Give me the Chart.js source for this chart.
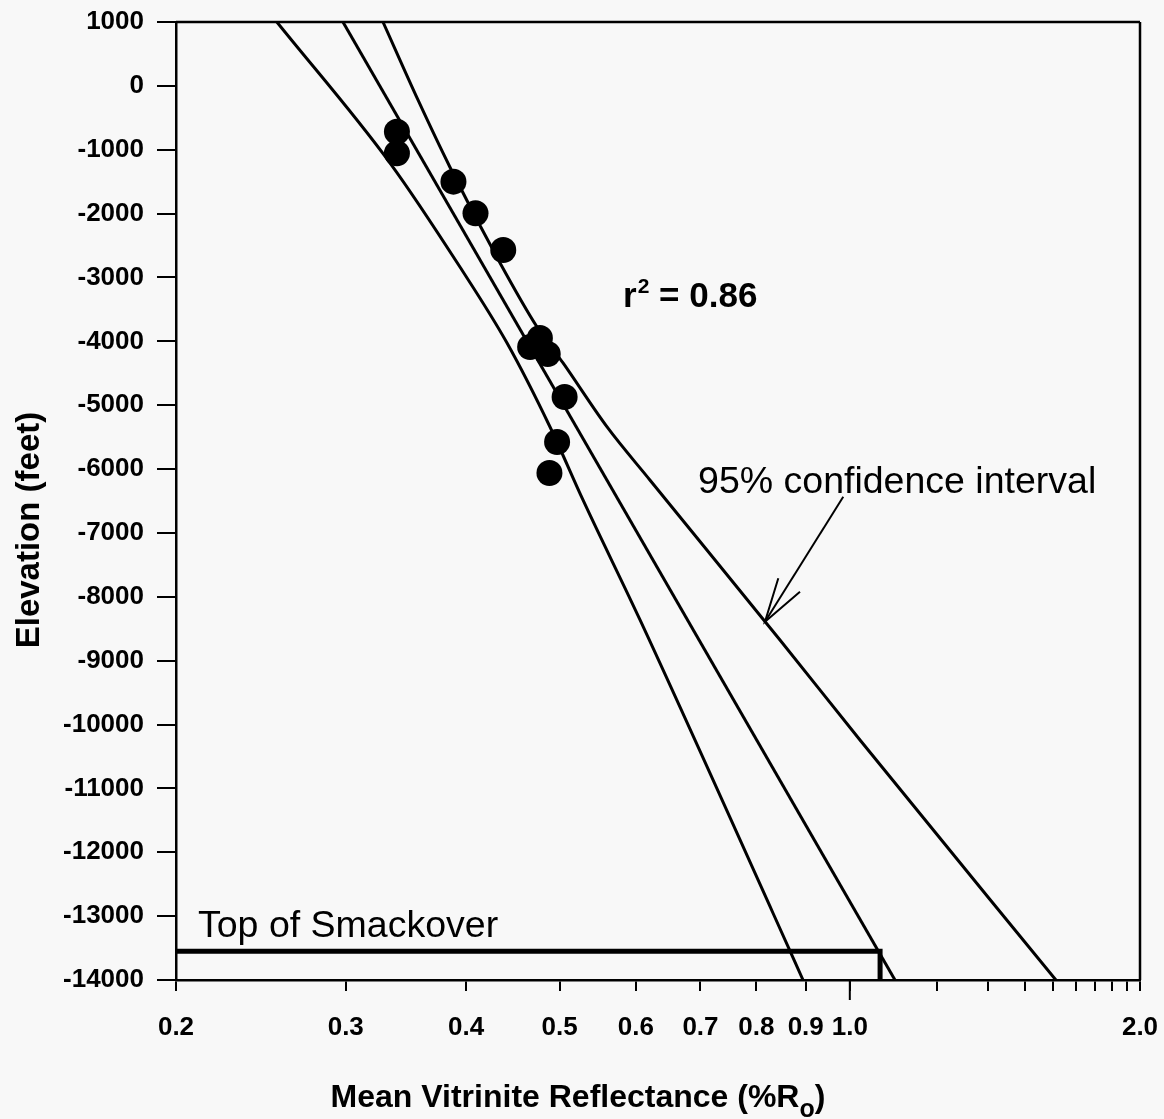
<!DOCTYPE html>
<html><head><meta charset="utf-8">
<script src="https://cdn.jsdelivr.net/npm/chart.js@4.4.1/dist/chart.umd.min.js"></script>
<style>html,body{margin:0;padding:0;background:#f8f8f8;} #wrap{width:1164px;height:1119px;}</style>
</head><body><div id="wrap"><canvas id="c" width="1164" height="1119"></canvas></div>
<script>
// ---- data ----
const sampleRo   = [0.339, 0.339, 0.388, 0.409, 0.437, 0.466, 0.477, 0.486, 0.506, 0.497, 0.488];
const sampleElev = [-718, -1056, -1500, -1995, -2570, -4089, -3948, -4198, -4872, -5576, -6062];

const fitRo   = [0.298, 1.114];
const fitElev = [1000, -14000];

const ciLeftRo   = [0.2545, 0.3335, 0.3941, 0.4410, 0.4887, 0.5287, 0.6059, 0.8323, 0.8943];
const ciLeftElev = [1000, -1208, -2836, -4026, -5341, -6484, -8363, -12951, -14000];

const ciRightRo   = [0.3279, 0.3565, 0.3847, 0.4337, 0.4738, 0.5041, 0.5600, 0.6203, 0.8464, 1.0246, 1.636];
const ciRightElev = [1000, -221, -1270, -2773, -3776, -4339, -5341, -6171, -8676, -10242, -14000];

const smackRo   = [0.2, 1.075, 1.075];
const smackElev = [-13550, -13550, -14000];

const arrowShaftRo   = [0.9845, 0.8166];
const arrowShaftElev = [-6433, -8390];
const arrowHeadRo    = [0.8430, 0.8166, 0.8878];
const arrowHeadElev  = [-7710, -8390, -7920];

const xTickValues = [0.2, 0.3, 0.4, 0.5, 0.6, 0.7, 0.8, 0.9, 1.0, 1.232, 1.392, 1.518, 1.623, 1.715, 1.796, 1.870, 1.938, 2.0];
const xTickLabels = ['0.2','0.3','0.4','0.5','0.6','0.7','0.8','0.9','1.0','','','','','','','','','2.0'];
const yTickValues = [1000, 0, -1000, -2000, -3000, -4000, -5000, -6000, -7000, -8000, -9000, -10000, -11000, -12000, -13000, -14000];
const yTickLabels = ['1000','0','-1000','-2000','-3000','-4000','-5000','-6000','-7000','-8000','-9000','-10000','-11000','-12000','-13000','-14000'];

const xTitle = 'Mean Vitrinite Reflectance (%R';
const xTitleSub = 'o';
const yTitle = 'Elevation (feet)';
const ciLabel = '95% confidence interval';
const smackLabel = 'Top of Smackover';
const r2Value = '0.86';

// anchors for text notes (data coordinates)
const notes = {
  ci:    {x: 0.696, y: -6375},
  smack: {x: 0.2108, y: -13327},
  r2:    {x: 0.5818, y: -3462}
};

const FF = '"Liberation Sans", Arial, Helvetica, sans-serif';
const pts = (xs, ys) => xs.map((x, i) => ({x: x, y: ys[i]}));
const lineDs = (data, w, smooth) => ({type: 'line', data: data, borderColor: '#000', borderWidth: w, pointRadius: 0,
  showLine: true, fill: false, tension: smooth ? 0.4 : 0, cubicInterpolationMode: smooth ? 'monotone' : 'default',
  borderCapStyle: 'butt'});

const bgPlugin = {
  id: 'bg',
  beforeDraw(chart) {
    const c = chart.ctx; c.save(); c.fillStyle = '#f8f8f8';
    c.fillRect(0, 0, chart.width, chart.height); c.restore();
  }
};

const decoPlugin = {
  id: 'deco',
  afterDraw(chart) {
    const c = chart.ctx, a = chart.chartArea, xs = chart.scales.x, ys = chart.scales.y;
    c.save();
    c.strokeStyle = '#000'; c.lineWidth = 2.5;
    c.beginPath();
    c.moveTo(a.left, a.top); c.lineTo(a.right, a.top);
    c.moveTo(a.right, a.top); c.lineTo(a.right, a.bottom);
    c.stroke();
    // longer tick at 1.0
    c.lineWidth = 2;
    const x1 = xs.getPixelForValue(1.0);
    c.beginPath(); c.moveTo(x1, a.bottom); c.lineTo(x1, a.bottom + 20); c.stroke();

    c.fillStyle = '#000';
    c.font = '37.5px ' + FF; c.textAlign = 'left'; c.textBaseline = 'alphabetic';
    c.fillText(ciLabel, xs.getPixelForValue(notes.ci.x), ys.getPixelForValue(notes.ci.y));
    c.fillText(smackLabel, xs.getPixelForValue(notes.smack.x), ys.getPixelForValue(notes.smack.y));

    // r^2
    let rx = xs.getPixelForValue(notes.r2.x), ry = ys.getPixelForValue(notes.r2.y);
    c.font = 'bold 35px ' + FF; c.fillText('r', rx, ry); rx += c.measureText('r').width + 1;
    c.font = 'bold 21px ' + FF; c.fillText('2', rx, ry - 14); rx += c.measureText('2').width;
    c.font = 'bold 35px ' + FF; c.fillText(' = ' + r2Value, rx, ry);

    // x title with subscript
    c.font = 'bold 32px ' + FF;
    const w1 = c.measureText(xTitle).width;
    c.font = 'bold 25px ' + FF;
    const w2 = c.measureText(xTitleSub).width;
    c.font = 'bold 32px ' + FF;
    const w3 = c.measureText(')').width;
    let tx = 578 - (w1 + w2 + w3) / 2; const ty = 1107;
    c.fillText(xTitle, tx, ty); tx += w1;
    c.font = 'bold 25px ' + FF; c.fillText(xTitleSub, tx, ty + 10); tx += w2;
    c.font = 'bold 32px ' + FF; c.fillText(')', tx, ty);

    // y title
    c.save();
    c.translate(39, 530); c.rotate(-Math.PI / 2);
    c.textAlign = 'center'; c.font = 'bold 33px ' + FF;
    c.fillText(yTitle, 0, 0);
    c.restore();
    c.restore();
  }
};

new Chart(document.getElementById('c'), {
  type: 'scatter',
  data: {
    datasets: [
      lineDs(pts(ciLeftRo, ciLeftElev), 3, true),
      lineDs(pts(ciRightRo, ciRightElev), 3, true),
      lineDs(pts(fitRo, fitElev), 3, false),
      lineDs(pts(smackRo, smackElev), 5, false),
      lineDs(pts(arrowShaftRo, arrowShaftElev), 2, false),
      lineDs(pts(arrowHeadRo, arrowHeadElev), 2, false),
      {type: 'scatter', data: pts(sampleRo, sampleElev), pointRadius: 13, pointBackgroundColor: '#000',
       pointBorderWidth: 0, backgroundColor: '#000', borderColor: '#000'}
    ]
  },
  options: {
    responsive: false, animation: false, devicePixelRatio: 1,
    layout: {padding: {left: 0, top: 22, right: 24, bottom: 0}},
    plugins: {legend: {display: false}, tooltip: {enabled: false}},
    scales: {
      x: {
        type: 'logarithmic', position: 'bottom', min: 0.2, max: 2.0,
        afterBuildTicks: s => { s.ticks = xTickValues.map(v => ({value: v})); },
        afterFit: s => { s.height = 139; s.paddingLeft = 0; s.paddingRight = 0; },
        ticks: {autoSkip: false, maxRotation: 0, minRotation: 0, padding: 21, color: '#000',
          font: {family: FF, size: 26, weight: 'bold'},
          callback: (v, i) => xTickLabels[i]},
        grid: {drawOnChartArea: false, drawTicks: true, tickLength: 11, color: '#000', lineWidth: 2},
        border: {display: true, color: '#000', width: 2.5},
        title: {display: false}
      },
      y: {
        type: 'linear', min: -14000, max: 1000,
        afterBuildTicks: s => { s.ticks = yTickValues.map(v => ({value: v})); },
        afterFit: s => { s.width = 176; s.paddingTop = 0; s.paddingBottom = 0; },
        ticks: {autoSkip: false, padding: 13, color: '#000',
          font: {family: FF, size: 26, weight: 'bold'},
          callback: (v, i) => yTickLabels[i]},
        grid: {drawOnChartArea: false, drawTicks: true, tickLength: 19, color: '#000', lineWidth: 2},
        border: {display: true, color: '#000', width: 2.5},
        title: {display: false}
      }
    }
  },
  plugins: [bgPlugin, decoPlugin]
});
</script></body></html>
